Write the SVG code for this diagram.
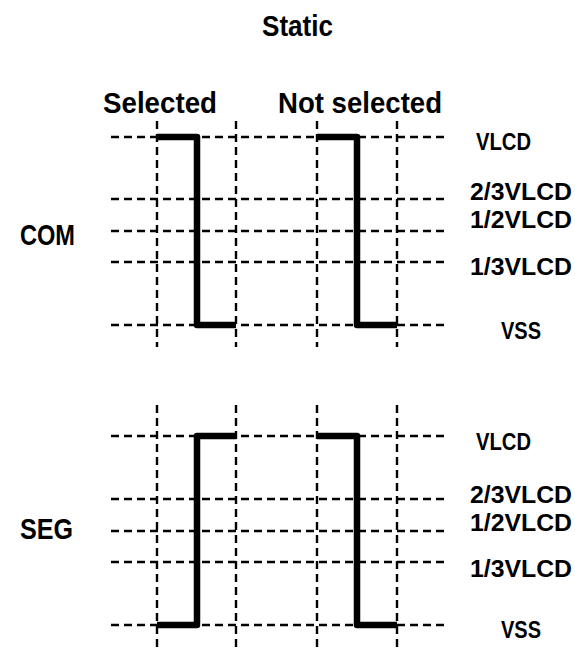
<svg xmlns="http://www.w3.org/2000/svg" width="575" height="657" viewBox="0 0 575 657">
<style>
.grid{stroke:#000;stroke-width:2.4;stroke-dasharray:8 5;fill:none}
.wave{stroke:#000;stroke-width:6.5;fill:none;stroke-linejoin:round;stroke-linecap:butt}
.h{font-family:"Liberation Sans",Arial,sans-serif;font-weight:bold;font-size:30px;fill:#000}
.lbl{font-family:"Liberation Sans",Arial,sans-serif;font-weight:bold;font-size:24px;fill:#000}
</style>
<rect width="575" height="657" fill="#fff"/>
<g id="title"><text class="h" x="262" y="36" textLength="71" lengthAdjust="spacingAndGlyphs">Static</text></g>
<g id="col-selected"><text class="h" x="103" y="113" textLength="114" lengthAdjust="spacingAndGlyphs">Selected</text></g>
<g id="col-notselected"><text class="h" x="278" y="113" textLength="164" lengthAdjust="spacingAndGlyphs">Not selected</text></g>
<g id="com-label"><text class="h" x="20" y="245" textLength="55" lengthAdjust="spacingAndGlyphs">COM</text></g>
<g id="seg-label"><text class="h" x="20" y="539" textLength="53" lengthAdjust="spacingAndGlyphs">SEG</text></g>
<g id="connectors">
<g id="com-grid">
<line class="grid" x1="111" y1="137" x2="445" y2="137"/>
<line class="grid" x1="111" y1="199" x2="445" y2="199"/>
<line class="grid" x1="111" y1="231" x2="445" y2="231"/>
<line class="grid" x1="111" y1="262" x2="445" y2="262"/>
<line class="grid" x1="111" y1="325" x2="445" y2="325"/>
<line class="grid" x1="157" y1="121" x2="157" y2="347"/>
<line class="grid" x1="236" y1="121" x2="236" y2="347"/>
<line class="grid" x1="317" y1="121" x2="317" y2="347"/>
<line class="grid" x1="397" y1="121" x2="397" y2="347"/>
</g>
<g id="seg-grid">
<line class="grid" x1="111" y1="436" x2="445" y2="436"/>
<line class="grid" x1="111" y1="499" x2="445" y2="499"/>
<line class="grid" x1="111" y1="531" x2="445" y2="531"/>
<line class="grid" x1="111" y1="562" x2="445" y2="562"/>
<line class="grid" x1="111" y1="625" x2="445" y2="625"/>
<line class="grid" x1="157" y1="405" x2="157" y2="647"/>
<line class="grid" x1="236" y1="405" x2="236" y2="647"/>
<line class="grid" x1="317" y1="405" x2="317" y2="647"/>
<line class="grid" x1="397" y1="405" x2="397" y2="647"/>
</g>
<path class="wave" d="M157 137 H197 V325 H236"/>
<path class="wave" d="M317 137 H357 V325 H397"/>
<path class="wave" d="M157 625 H197 V436 H236"/>
<path class="wave" d="M317 436 H357 V625 H397"/>
</g>
<g id="com-levels">
<text class="lbl" x="476" y="150" textLength="55" lengthAdjust="spacingAndGlyphs">VLCD</text>
<text class="lbl" x="470" y="200" textLength="102" lengthAdjust="spacingAndGlyphs">2/3VLCD</text>
<text class="lbl" x="470" y="228" textLength="102" lengthAdjust="spacingAndGlyphs">1/2VLCD</text>
<text class="lbl" x="470" y="275" textLength="102" lengthAdjust="spacingAndGlyphs">1/3VLCD</text>
<text class="lbl" x="501" y="339" textLength="40" lengthAdjust="spacingAndGlyphs">VSS</text>
</g>
<g id="seg-levels">
<text class="lbl" x="476" y="450" textLength="55" lengthAdjust="spacingAndGlyphs">VLCD</text>
<text class="lbl" x="470" y="503" textLength="102" lengthAdjust="spacingAndGlyphs">2/3VLCD</text>
<text class="lbl" x="470" y="531" textLength="102" lengthAdjust="spacingAndGlyphs">1/2VLCD</text>
<text class="lbl" x="470" y="577" textLength="102" lengthAdjust="spacingAndGlyphs">1/3VLCD</text>
<text class="lbl" x="501" y="638" textLength="40" lengthAdjust="spacingAndGlyphs">VSS</text>
</g>
</svg>
